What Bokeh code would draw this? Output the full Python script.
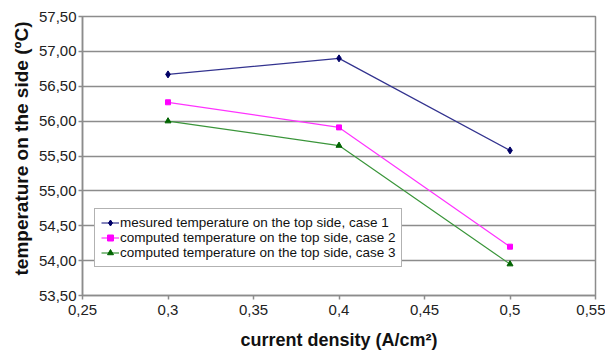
from bokeh.plotting import figure
from bokeh.models import FixedTicker, CustomJSTickFormatter, Range1d, Legend, Title
from bokeh.embed import file_html
from bokeh.resources import INLINE

x_values = [0.3, 0.4, 0.5]
measured_case1 = [56.67, 56.90, 55.58]
computed_case2 = [56.27, 55.91, 54.20]
computed_case3 = [56.00, 55.65, 53.95]

x_ticks = [0.25, 0.3, 0.35, 0.4, 0.45, 0.5, 0.55]
y_ticks = [53.5, 54.0, 54.5, 55.0, 55.5, 56.0, 56.5, 57.0, 57.5]

series_labels = [
    "mesured temperature on the top side, case 1",
    "computed temperature on the top side, case 2",
    "computed temperature on the top side, case 3",
]
x_title = "current density (A/cm\u00b2)"
y_title = "temperature on the side (\u00baC)"

FONT = "Liberation Sans"
GRID = "#8c8c8c"

p = figure(
    output_backend="svg", toolbar_location=None,
    frame_width=513, frame_height=279,
    x_range=Range1d(0.25, 0.55), y_range=Range1d(53.5, 57.5),
    min_border_left=82, min_border_right=10, min_border_top=16, min_border_bottom=54,
)
p.outline_line_color = GRID
p.outline_line_width = 1.5
p.background_fill_color = "white"
p.border_fill_color = "white"

p.xgrid.grid_line_color = None
p.ygrid.grid_line_color = GRID
p.ygrid.grid_line_width = 1.5

for ax in (p.xaxis[0], p.yaxis[0]):
    ax.axis_line_color = GRID
    ax.axis_line_width = 1.5
    ax.major_tick_line_color = GRID
    ax.major_tick_line_width = 1.5
    ax.minor_tick_line_color = None
    ax.major_tick_in = 0
    ax.major_tick_out = 4
    ax.major_label_text_font = FONT
    ax.major_label_text_font_size = "15px"
    ax.major_label_text_color = "#222222"
    ax.axis_label_text_font = FONT
    ax.axis_label_text_font_size = "18px"
    ax.axis_label_text_font_style = "bold"
    ax.axis_label_text_color = "#111111"

p.xaxis.ticker = FixedTicker(ticks=x_ticks)
p.yaxis.ticker = FixedTicker(ticks=y_ticks)
p.xaxis.formatter = CustomJSTickFormatter(
    code="return String(Math.round(tick*100)/100).replace('.', ',');")
p.yaxis.formatter = CustomJSTickFormatter(
    code="return tick.toFixed(2).replace('.', ',');")
p.xaxis.axis_label = x_title
p.xaxis.major_label_standoff = 5
p.yaxis.major_label_standoff = 2
p.xaxis.axis_label_standoff = 12

ytitle = Title(text=y_title, align="left", offset=20, standoff=8,
               text_font=FONT, text_font_size="19px", text_font_style="bold",
               text_color="#111111")
p.add_layout(ytitle, "left")

items = []
styles = [
    (measured_case1, "#33338f", "#000066", "diamond", 7),
    (computed_case2, "#ff33ff", "#ff00ff", "square", 5),
    (computed_case3, "#3a953a", "#006400", "triangle", 6),
]
for (vals, lc, mc, marker, sz), lab in zip(styles, series_labels):
    r1 = p.line(x_values, vals, line_color=lc, line_width=1.2)
    r2 = p.scatter(x_values, vals, marker=marker, size=sz,
                   fill_color=mc, line_color=mc)
    items.append((lab, [r1, r2]))

legend = Legend(items=items, location=(12, 28))
legend.label_text_font = FONT
legend.label_text_font_size = "13.5px"
legend.label_text_color = "#111111"
legend.label_height = 15
legend.glyph_height = 15
legend.glyph_width = 18
legend.label_standoff = 1
legend.spacing = 0
legend.padding = 6
legend.margin = 0
legend.border_line_color = "#666666"
legend.border_line_width = 1
legend.background_fill_color = "white"
legend.background_fill_alpha = 1
p.add_layout(legend, "center")

open("out.html", "w").write(file_html(p, INLINE))
